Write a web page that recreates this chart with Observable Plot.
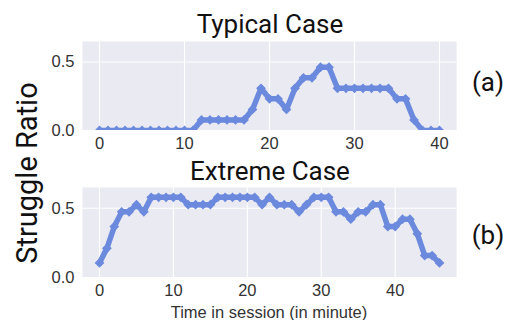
<!DOCTYPE html>
<html>
<head>
<meta charset="utf-8">
<script src="https://cdn.jsdelivr.net/npm/d3@7"></script>
<script src="https://cdn.jsdelivr.net/npm/@observablehq/plot@0.6"></script>
<style>
  html, body { margin: 0; padding: 0; background: #fff; }
  #wrap { position: relative; width: 508px; height: 320px; overflow: hidden; }
  #wrap > svg { position: absolute; left: 0; }
</style>
</head>
<body>
<div id="wrap"></div>
<script>
// ---- data ----
const typicalMinutes = d3.range(0, 41);
const typicalRatio = [
  0, 0, 0, 0, 0, 0, 0, 0, 0, 0, 0, 0,
  0.077, 0.077, 0.077, 0.077, 0.077, 0.077,
  0.154, 0.308, 0.231, 0.231, 0.154, 0.308, 0.385, 0.385, 0.462, 0.462,
  0.308, 0.308, 0.308, 0.308, 0.308, 0.308, 0.308,
  0.231, 0.231, 0.077, 0, 0, 0
];
const extremeMinutes = d3.range(0, 47);
const extremeRatio = [
  0.105, 0.211, 0.368, 0.474, 0.474, 0.526, 0.474,
  0.579, 0.579, 0.579, 0.579, 0.579,
  0.526, 0.526, 0.526, 0.526,
  0.579, 0.579, 0.579, 0.579, 0.579, 0.579,
  0.526, 0.579, 0.526, 0.526, 0.526, 0.474, 0.526,
  0.579, 0.579, 0.579,
  0.474, 0.474, 0.421, 0.474, 0.474, 0.526, 0.526,
  0.368, 0.368, 0.421, 0.421, 0.316, 0.158, 0.158, 0.105
];
const xTicks = [0, 10, 20, 30, 40];
const yTicks = [0, 0.5];
const titles = ["Typical Case", "Extreme Case"];
const panelTags = ["(a)", "(b)"];
const yLabel = "Struggle Ratio";
const xLabel = "Time in session (in minute)";

const lineColor = "#6c8add";
const bg = "#eaeaf2";
const tickFont = "'Liberation Sans', Arial, sans-serif";
const bigFont = "Roboto, 'Open Sans', sans-serif";

function panel(xs, ys, xDomain, marginTop, marginBottom, height) {
  const data = xs.map((x, i) => ({x, y: ys[i]}));
  return Plot.plot({
    width: 508,
    height,
    marginLeft: 82,
    marginRight: 52,
    marginTop,
    marginBottom,
    style: {fontFamily: tickFont, fontSize: "16.5px", color: "#333", background: "transparent", overflow: "visible"},
    x: {domain: xDomain, ticks: xTicks, tickSize: 0, tickPadding: 7, label: null},
    y: {domain: [0, 0.65], ticks: yTicks, tickSize: 0, tickPadding: 8, tickFormat: d3.format(".1f"), label: null},
    marks: [
      Plot.frame({fill: bg, stroke: null}),
      Plot.gridX(xTicks, {stroke: "#fff", strokeOpacity: 1, strokeWidth: 1.1}),
      Plot.gridY(yTicks, {stroke: "#fff", strokeOpacity: 1, strokeWidth: 1.1}),
      Plot.line(data, {x: "x", y: "y", stroke: lineColor, strokeWidth: 5.5, clip: true}),
      Plot.dot(data, {x: "x", y: "y", symbol: "diamond2", r: 4.4, fill: lineColor, stroke: null, clip: true})
    ]
  });
}

const wrap = document.getElementById("wrap");
const top1 = panel(typicalMinutes, typicalRatio, [-2, 42], 41, 30, 160);
top1.style.top = "0px";
wrap.appendChild(top1);
const bot = panel(extremeMinutes, extremeRatio, [-2.3, 48.3], 27, 43, 160);
bot.style.top = "160px";
wrap.appendChild(bot);

// overlay texts
const ov = d3.select(wrap).append("svg")
  .attr("width", 508).attr("height", 320)
  .style("top", "0px").style("pointer-events", "none");
ov.append("text").attr("x", 270).attr("y", 33).attr("text-anchor", "middle")
  .attr("font-family", bigFont).attr("font-size", 26).attr("fill", "#111").text(titles[0]);
ov.append("text").attr("x", 270).attr("y", 180).attr("text-anchor", "middle")
  .attr("font-family", bigFont).attr("font-size", 26).attr("fill", "#111").text(titles[1]);
ov.append("text").attr("x", 488).attr("y", 91).attr("text-anchor", "middle")
  .attr("font-family", bigFont).attr("font-size", 26).attr("fill", "#111").text(panelTags[0]);
ov.append("text").attr("x", 488).attr("y", 244).attr("text-anchor", "middle")
  .attr("font-family", bigFont).attr("font-size", 26).attr("fill", "#111").text(panelTags[1]);
ov.append("text").attr("transform", "translate(37,173) rotate(-90)").attr("text-anchor", "middle")
  .attr("font-family", bigFont).attr("font-size", 29).attr("fill", "#111").text(yLabel);
ov.append("text").attr("x", 269).attr("y", 318).attr("text-anchor", "middle")
  .attr("font-family", tickFont).attr("font-size", 16.5).attr("fill", "#333").text(xLabel);
</script>
</body>
</html>
